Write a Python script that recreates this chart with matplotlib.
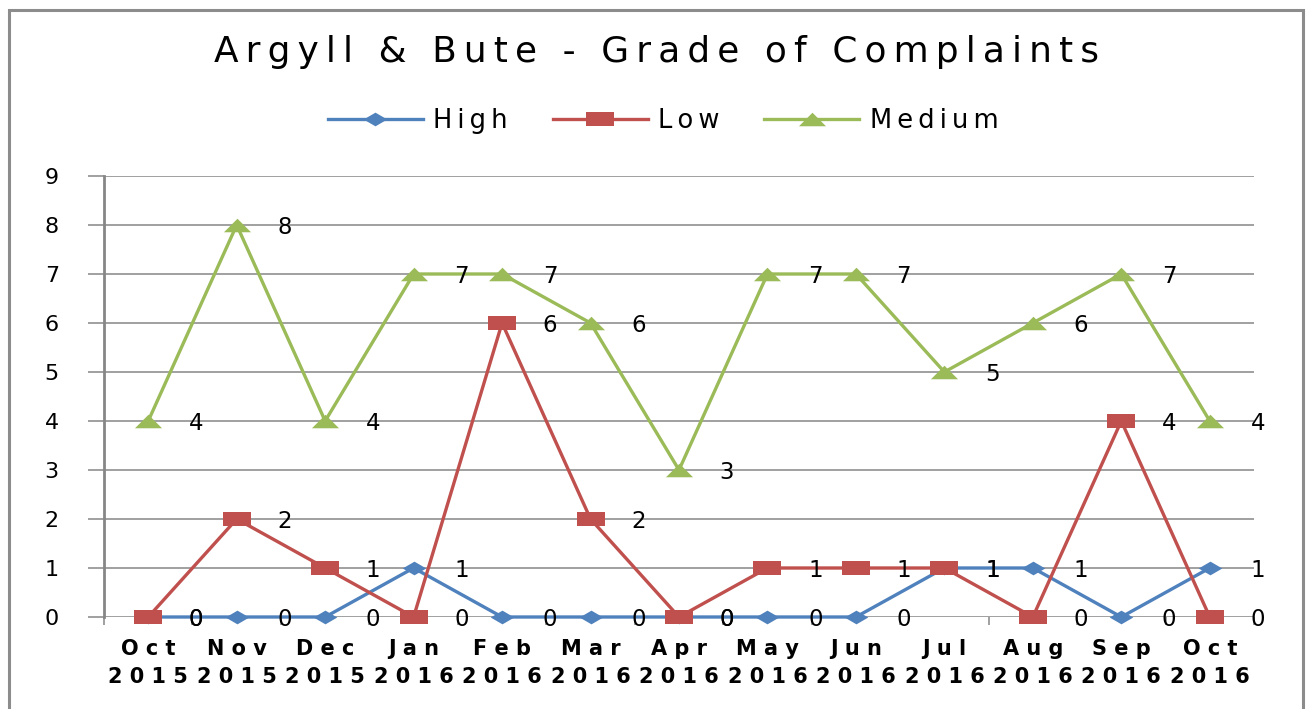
import matplotlib.pyplot as plt
from matplotlib.patches import Rectangle

# ------------------------
# Data
# ------------------------
months = ["Oct", "Nov", "Dec", "Jan", "Feb", "Mar", "Apr",
          "May", "Jun", "Jul", "Aug", "Sep", "Oct"]
years = ["2015", "2015", "2015", "2016", "2016", "2016", "2016",
         "2016", "2016", "2016", "2016", "2016", "2016"]
high = [0, 0, 0, 1, 0, 0, 0, 0, 0, 1, 1, 0, 1]
low = [0, 2, 1, 0, 6, 2, 0, 1, 1, 1, 0, 4, 0]
medium = [4, 8, 4, 7, 7, 6, 3, 7, 7, 5, 6, 7, 4]
title = "Argyll & Bute - Grade of Complaints"

# ------------------------
# Styles
# ------------------------
BLUE = "#4F81BD"
RED = "#C0504D"
GREEN = "#9BBB59"
GREY = "#868686"

# stretched (wide) markers, like the reference
diamond = [(-1, 0), (0, 0.58), (1, 0), (0, -0.58)]
square = [(-1, -0.5), (1, -0.5), (1, 0.5), (-1, 0.5)]
triangle = [(-1, -0.5), (0, 0.5), (1, -0.5)]


def spaced(s, sep="\u2009"):
    # the reference text is wide / letter-spaced
    return sep.join(s)


plt.rcParams["font.family"] = "DejaVu Sans"

fig = plt.figure(figsize=(13.08, 7.09), dpi=100)
ax = fig.add_axes([104 / 1308, 1 - 617 / 709, 1150 / 1308, 441 / 709])

x = list(range(len(months)))

series = [
    ("High", high, BLUE, diamond, 17),
    ("Low", low, RED, square, 19.5),
    ("Medium", medium, GREEN, triangle, 19.5),
]

for name, vals, col, mk, ms in series:
    ax.plot(x, vals, color=col, linewidth=2.4, marker=mk, markersize=ms,
            markeredgewidth=0, label=spaced(name), clip_on=False, zorder=3)
    for xi, v in zip(x, vals):
        ax.annotate(str(v), (xi, v), xytext=(34.5, -2), textcoords="offset points",
                    ha="center", va="center", fontsize=16.5, zorder=4)

# ------------------------
# Axis formatting
# ------------------------
ax.set_xlim(-0.5, len(months) - 0.5)
ax.set_ylim(0, 9)
ax.set_yticks(range(0, 10))
ax.yaxis.grid(True, color=GREY, linewidth=1.1)
ax.set_axisbelow(True)

for side in ["top", "right", "bottom"]:
    ax.spines[side].set_visible(False)
ax.spines["left"].set_color(GREY)
ax.spines["left"].set_linewidth(2)

ax.tick_params(axis="y", length=11.5, width=1.1, color=GREY, pad=21, labelsize=16)

labels = [" ".join(m) + "\n" + " ".join(y) for m, y in zip(months, years)]
ax.set_xticks(x)
ax.set_xticklabels(labels, fontsize=15, fontweight="bold", linespacing=1.5)
ax.tick_params(axis="x", length=0, pad=16)
ax.set_xticks([i - 0.5 for i in range(len(months) + 1)], minor=True)
ax.tick_params(axis="x", which="minor", length=6, width=1.1, color=GREY)

fig.text(657 / 1308, 1 - 52 / 709, spaced(title),
         ha="center", va="center", fontsize=25.8)

fig.legend(loc="center", bbox_to_anchor=(663 / 1308, 1 - 121 / 709), ncol=3,
           frameon=False, fontsize=18.5, handlelength=3.7, handletextpad=0.4,
           columnspacing=1.75)

# border around the chart area
fig.patches.append(Rectangle((9 / 1308, -0.05), 1294 / 1308, 1.05 - 10 / 709,
                             transform=fig.transFigure, fill=False,
                             edgecolor="#8C8C8C", linewidth=2.2))

plt.savefig("out.png", dpi=100)
